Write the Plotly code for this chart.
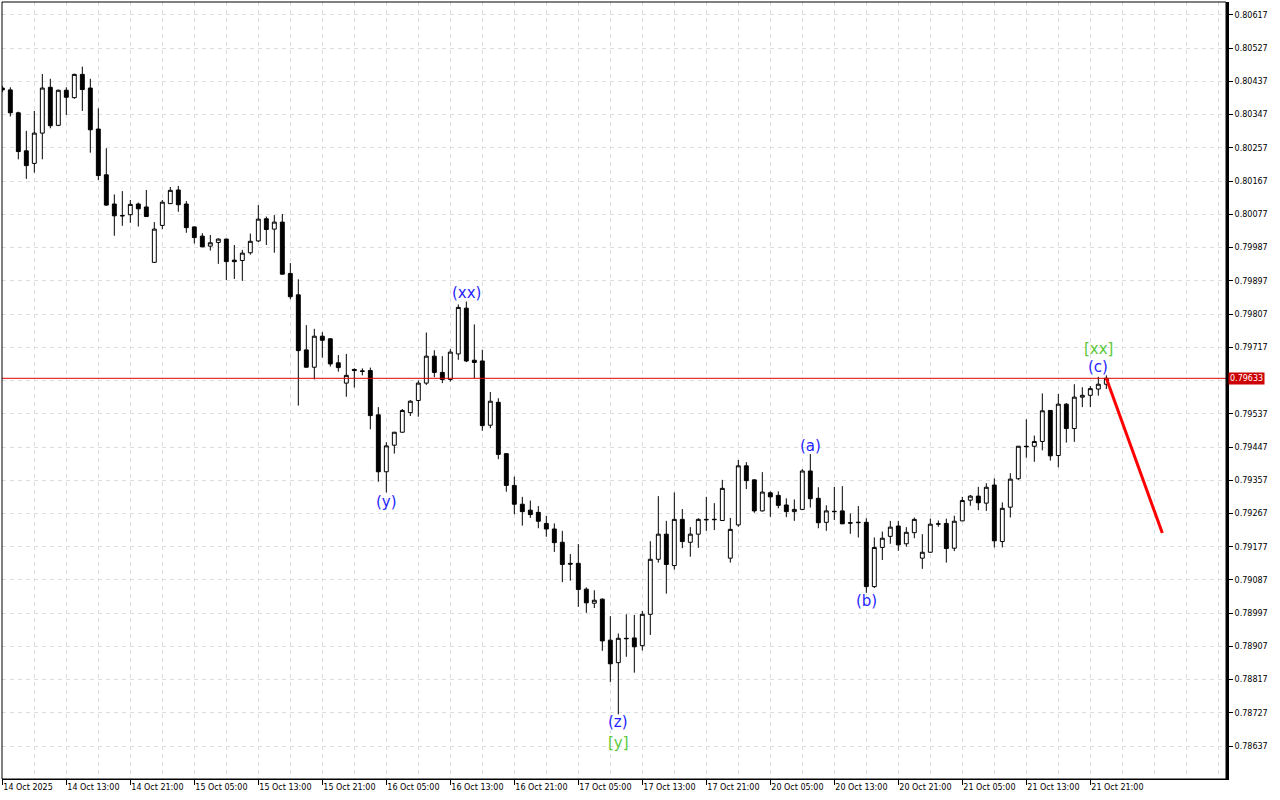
import plotly.graph_objects as go

# ---------------- data (H1 candles) ----------------
bar_index = list(range(139))

open_ = [
    0.80419, 0.80414, 0.80352, 0.80249, 0.80215, 0.80297, 0.80421, 0.80318, 0.80413, 0.80393,
    0.80456, 0.80419, 0.80308, 0.80184, 0.80105, 0.80074, 0.80076, 0.80105, 0.80097, 0.79947,
    0.80047, 0.80106, 0.80143, 0.80105, 0.80043, 0.80018, 0.79991, 0.80001, 0.80010, 0.79953,
    0.79952, 0.79973, 0.80005, 0.80065, 0.80037, 0.80056, 0.79917, 0.79859, 0.79710, 0.79663,
    0.79747, 0.79740, 0.79675, 0.79620, 0.79657, 0.79653, 0.79654, 0.79534, 0.79380, 0.79452,
    0.79487, 0.79540, 0.79573, 0.79620, 0.79693, 0.79649, 0.79630, 0.79699, 0.79823, 0.79682,
    0.79680, 0.79506, 0.79568, 0.79429, 0.79343, 0.79292, 0.79276, 0.79270, 0.79240, 0.79225,
    0.79189, 0.79132, 0.79132, 0.79062, 0.79024, 0.79035, 0.78924, 0.78863, 0.78929, 0.78930,
    0.78909, 0.78994, 0.79143, 0.79211, 0.79126, 0.79251, 0.79189, 0.79211, 0.79251, 0.79250,
    0.79248, 0.79146, 0.79236, 0.79396, 0.79358, 0.79274, 0.79323, 0.79316, 0.79290, 0.79272,
    0.79278, 0.79382, 0.79308, 0.79243, 0.79273, 0.79274, 0.79242, 0.79242, 0.79243, 0.79069,
    0.79175, 0.79205, 0.79233, 0.79185, 0.79215, 0.79146, 0.79162, 0.79238, 0.79240, 0.79173,
    0.79247, 0.79303, 0.79314, 0.79295, 0.79344, 0.79191, 0.79284, 0.79361, 0.79449, 0.79449,
    0.79462, 0.79546, 0.79424, 0.79563, 0.79497, 0.79582, 0.79587, 0.79604, 0.79617,
]
high = [
    0.80425, 0.80421, 0.80355, 0.80303, 0.80357, 0.80457, 0.80444, 0.80415, 0.80421, 0.80458,
    0.80477, 0.80444, 0.80364, 0.80256, 0.80131, 0.80140, 0.80116, 0.80109, 0.80143, 0.80056,
    0.80116, 0.80151, 0.80154, 0.80113, 0.80044, 0.80026, 0.80021, 0.80012, 0.80011, 0.79994,
    0.79981, 0.80025, 0.80102, 0.80071, 0.80075, 0.80078, 0.79945, 0.79901, 0.79777, 0.79767,
    0.79758, 0.79741, 0.79696, 0.79699, 0.79660, 0.79660, 0.79662, 0.79555, 0.79460, 0.79488,
    0.79550, 0.79574, 0.79627, 0.79757, 0.79709, 0.79693, 0.79712, 0.79833, 0.79841, 0.79779,
    0.79710, 0.79596, 0.79579, 0.79430, 0.79367, 0.79312, 0.79302, 0.79287, 0.79260, 0.79240,
    0.79220, 0.79157, 0.79184, 0.79067, 0.79059, 0.79037, 0.78989, 0.78942, 0.78994, 0.78992,
    0.79003, 0.79192, 0.79314, 0.79247, 0.79324, 0.79279, 0.79230, 0.79254, 0.79312, 0.79295,
    0.79358, 0.79255, 0.79412, 0.79406, 0.79359, 0.79379, 0.79327, 0.79327, 0.79308, 0.79305,
    0.79387, 0.79428, 0.79338, 0.79289, 0.79339, 0.79341, 0.79267, 0.79287, 0.79254, 0.79202,
    0.79218, 0.79247, 0.79247, 0.79230, 0.79256, 0.79211, 0.79253, 0.79248, 0.79253, 0.79261,
    0.79312, 0.79317, 0.79339, 0.79349, 0.79362, 0.79297, 0.79376, 0.79450, 0.79522, 0.79478,
    0.79592, 0.79547, 0.79591, 0.79566, 0.79617, 0.79609, 0.79612, 0.79637, 0.79641,
]
low = [
    0.80408, 0.80342, 0.80226, 0.80173, 0.80190, 0.80226, 0.80310, 0.80316, 0.80346, 0.80390,
    0.80357, 0.80244, 0.80170, 0.80100, 0.80019, 0.80046, 0.80054, 0.80044, 0.80070, 0.79946,
    0.80037, 0.80105, 0.80084, 0.80027, 0.79998, 0.79988, 0.79979, 0.79943, 0.79899, 0.79902,
    0.79897, 0.79968, 0.80002, 0.79994, 0.79973, 0.79914, 0.79847, 0.79559, 0.79662, 0.79630,
    0.79689, 0.79665, 0.79651, 0.79583, 0.79608, 0.79641, 0.79495, 0.79353, 0.79324, 0.79429,
    0.79486, 0.79531, 0.79529, 0.79615, 0.79636, 0.79620, 0.79624, 0.79683, 0.79677, 0.79633,
    0.79491, 0.79498, 0.79414, 0.79326, 0.79265, 0.79234, 0.79255, 0.79227, 0.79204, 0.79163,
    0.79081, 0.79085, 0.79014, 0.78998, 0.79011, 0.78895, 0.78811, 0.78723, 0.78879, 0.78836,
    0.78896, 0.78938, 0.79134, 0.79050, 0.79115, 0.79173, 0.79150, 0.79174, 0.79220, 0.79222,
    0.79247, 0.79134, 0.79231, 0.79333, 0.79269, 0.79272, 0.79258, 0.79281, 0.79257, 0.79247,
    0.79276, 0.79283, 0.79227, 0.79220, 0.79249, 0.79238, 0.79212, 0.79202, 0.79052, 0.79065,
    0.79141, 0.79185, 0.79166, 0.79177, 0.79200, 0.79117, 0.79161, 0.79231, 0.79134, 0.79165,
    0.79246, 0.79288, 0.79276, 0.79274, 0.79175, 0.79175, 0.79256, 0.79358, 0.79418, 0.79407,
    0.79438, 0.79410, 0.79392, 0.79459, 0.79461, 0.79555, 0.79555, 0.79586, 0.79604,
]
close = [
    0.80414, 0.80352, 0.80247, 0.80209, 0.80297, 0.80419, 0.80317, 0.80413, 0.80394, 0.80456,
    0.80415, 0.80306, 0.80182, 0.80102, 0.80073, 0.80073, 0.80104, 0.80092, 0.80071, 0.80037,
    0.80110, 0.80142, 0.80103, 0.80041, 0.80014, 0.79989, 0.80000, 0.80010, 0.79949, 0.79949,
    0.79972, 0.80004, 0.80064, 0.80036, 0.80056, 0.79915, 0.79854, 0.79708, 0.79663, 0.79747,
    0.79736, 0.79672, 0.79662, 0.79641, 0.79654, 0.79652, 0.79532, 0.79380, 0.79450, 0.79487,
    0.79546, 0.79571, 0.79620, 0.79693, 0.79649, 0.79630, 0.79704, 0.79825, 0.79680, 0.79676,
    0.79505, 0.79571, 0.79427, 0.79343, 0.79292, 0.79272, 0.79264, 0.79246, 0.79225, 0.79188,
    0.79129, 0.79130, 0.79061, 0.79025, 0.79032, 0.78922, 0.78860, 0.78929, 0.78928, 0.78906,
    0.78994, 0.79143, 0.79211, 0.79129, 0.79251, 0.79191, 0.79211, 0.79251, 0.79250, 0.79251,
    0.79335, 0.79224, 0.79396, 0.79356, 0.79274, 0.79325, 0.79312, 0.79289, 0.79272, 0.79278,
    0.79382, 0.79307, 0.79242, 0.79274, 0.79272, 0.79239, 0.79241, 0.79243, 0.79069, 0.79175,
    0.79200, 0.79230, 0.79182, 0.79216, 0.79251, 0.79162, 0.79238, 0.79239, 0.79172, 0.79246,
    0.79302, 0.79314, 0.79296, 0.79338, 0.79193, 0.79281, 0.79360, 0.79449, 0.79448, 0.79462,
    0.79545, 0.79423, 0.79563, 0.79497, 0.79582, 0.79587, 0.79605, 0.79617, 0.79633,
]

time_tick_bars = [0, 8, 16, 24, 32, 40, 48, 56, 64, 72, 80, 88, 96, 104, 112, 120, 128, 136]
time_tick_labels = [
    "14 Oct 2025", "14 Oct 13:00", "14 Oct 21:00", "15 Oct 05:00", "15 Oct 13:00",
    "15 Oct 21:00", "16 Oct 05:00", "16 Oct 13:00", "16 Oct 21:00", "17 Oct 05:00",
    "17 Oct 13:00", "17 Oct 21:00", "20 Oct 05:00", "20 Oct 13:00", "20 Oct 21:00",
    "21 Oct 05:00", "21 Oct 13:00", "21 Oct 21:00",
]
price_ticks = [
    0.78637, 0.78727, 0.78817, 0.78907, 0.78997, 0.79087, 0.79177, 0.79267, 0.79357,
    0.79447, 0.79537, 0.79627, 0.79717, 0.79807, 0.79897, 0.79987, 0.80077, 0.80167,
    0.80257, 0.80347, 0.80437, 0.80527, 0.80617,
]
current_price = 0.79633
forecast_bars = [138, 145]
forecast_prices = [0.79633, 0.79214]

wave_labels = ["(xx)", "(y)", "(z)", "[y]", "(a)", "(b)", "(c)", "[xx]"]
wave_bars = [58, 48, 77, 77, 101, 108, 137, 137]
wave_anchor = ["high", "low", "low", "low", "high", "low", "high", "high"]
wave_degree = ["minor", "minor", "minor", "major", "minor", "minor", "minor", "major"]

# ---------------- styling ----------------
BLUE = "#1f1fff"
GREEN = "#5cc83c"
GRID = "#dedede"
FONT = "DejaVu Sans"
label_shift = {"(xx)": 9, "(y)": -10, "(z)": -8, "[y]": -29, "(a)": 8, "(b)": -8, "(c)": 10, "[xx]": 28}

fig = go.Figure()

fig.add_trace(go.Candlestick(
    x=bar_index, open=open_, high=high, low=low, close=close,
    increasing=dict(line=dict(color="black", width=1), fillcolor="white"),
    decreasing=dict(line=dict(color="black", width=1), fillcolor="black"),
    whiskerwidth=0, showlegend=False, hoverinfo="skip",
))

fig.add_trace(go.Scatter(
    x=forecast_bars, y=forecast_prices, mode="lines",
    line=dict(color="#ff0000", width=3), showlegend=False, hoverinfo="skip",
))

# current price line
fig.add_shape(type="line", xref="paper", x0=0, x1=1, yref="y", y0=current_price, y1=current_price,
              line=dict(color="#e00000", width=1), layer="above")

# frame
fig.add_shape(type="rect", xref="paper", yref="paper", x0=0, x1=1, y0=0, y1=1,
              line=dict(color="black", width=1), layer="above")

annotations = []
for lab, b, side, deg in zip(wave_labels, wave_bars, wave_anchor, wave_degree):
    yv = high[b] if side == "high" else low[b]
    annotations.append(dict(
        x=b, y=yv, xref="x", yref="y", text=lab, showarrow=False,
        xanchor="center", yanchor="middle", yshift=label_shift[lab],
        font=dict(family=FONT, size=15, color=BLUE if deg == "minor" else GREEN),
    ))

annotations.append(dict(
    x=1, xref="paper", y=current_price, yref="y", text=f"{current_price:.5f}",
    showarrow=False, xanchor="left", yanchor="middle", xshift=2,
    bgcolor="#cc0000", borderpad=1,
    font=dict(family=FONT, size=8, color="white"),
))

# the price tag covers the nearest axis label, as in the original terminal
price_tick_text = ["" if abs(v - current_price) < 0.0002 else f"{v:.5f}" for v in price_ticks]

fig.update_layout(
    width=1280, height=800,
    margin=dict(l=2, r=54, t=2, b=21),
    paper_bgcolor="white", plot_bgcolor="white",
    annotations=annotations,
    showlegend=False,
    xaxis=dict(
        range=[-0.04, 152.96], rangeslider=dict(visible=False),
        tickmode="array", tickvals=time_tick_bars, ticktext=time_tick_labels,
        ticks="outside", ticklen=5, tickcolor="black", tickwidth=1,
        ticklabelposition="outside right",
        tickfont=dict(family=FONT, size=8, color="black"),
        showgrid=True, gridcolor=GRID, gridwidth=1, griddash="4px,4px",
        minor=dict(tickmode="linear", tick0=0, dtick=4, showgrid=True,
                   gridcolor=GRID, gridwidth=1, griddash="4px,4px", ticks=""),
        showline=True, linecolor="black", linewidth=1,
        zeroline=False, fixedrange=True,
    ),
    yaxis=dict(
        side="right", range=[0.78548, 0.80652],
        tickmode="array", tickvals=price_ticks, ticktext=price_tick_text,
        ticks="outside", ticklen=4, tickcolor="black", tickwidth=1,
        tickfont=dict(family=FONT, size=8, color="black"),
        showgrid=True, gridcolor=GRID, gridwidth=1, griddash="4px,4px",
        showline=True, linecolor="black", linewidth=3,
        zeroline=False, fixedrange=True,
    ),
)

fig.write_html(
    "out.html",
    config={"displayModeBar": False, "staticPlot": True},
    post_script="document.body.style.margin='0';document.body.style.padding='0';",
)
